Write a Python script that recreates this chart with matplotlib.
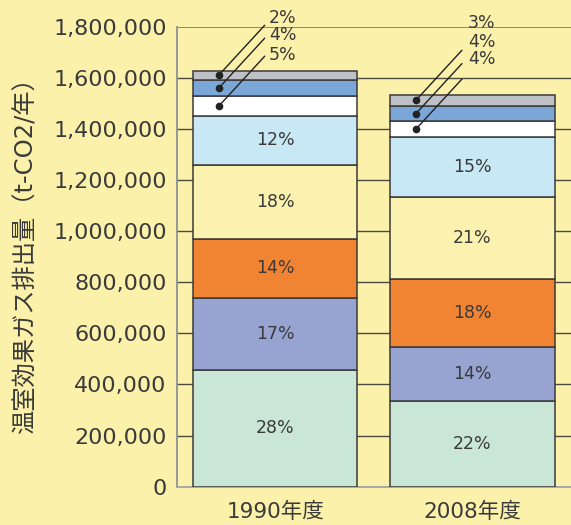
import matplotlib
matplotlib.use("Agg")
import matplotlib.pyplot as plt
import numpy as np

plt.rcParams['font.family'] = ['DejaVu Sans', 'Noto Sans CJK JP']

# ---- data ----
years = ["1990年度", "2008年度"]
# segments bottom -> top (t-CO2/year)
seg_1990 = [457000, 282000, 230000, 291000, 191000, 76000, 65000, 36000]
seg_2008 = [336000, 211000, 265000, 323000, 234000, 61000, 60000, 44500]
pct_1990 = ["28%", "17%", "14%", "18%", "12%", "5%", "4%", "2%"]
pct_2008 = ["22%", "14%", "18%", "21%", "15%", "4%", "4%", "3%"]
colors = ["#C9E6D6", "#97A4D2", "#F08433", "#FBF2B0",
          "#C9E8F5", "#FFFFFF", "#7BA7D8", "#BEC1C6"]
yticks = [0, 200000, 400000, 600000, 800000, 1000000, 1200000, 1400000, 1600000, 1800000]
ylabel = "温室効果ガス排出量（t-CO2/年）"

BG = "#FBF1AB"
TXT = "#3a3a3a"

fig = plt.figure(figsize=(5.71, 5.25), dpi=100, facecolor=BG)
ax = fig.add_axes([176.5 / 571, 1 - 486.7 / 525, 1 - 176.5 / 571, (486.7 - 26.7) / 525])
ax.set_facecolor(BG)

x = np.arange(len(years))
width = 0.835
all_segs = [seg_1990, seg_2008]
all_pcts = [pct_1990, pct_2008]

# small-segment label offsets (pixels): text position and line end relative to dot
text_off = [[(50, 57), (50, 53), (50, 51)], [(52, 77), (52, 72), (52, 70.5)]]
line_off = (46, 50)
dx_dot = -0.286

for i, (segs, pcts) in enumerate(zip(all_segs, all_pcts)):
    bottom = 0
    for j, (v, p, c) in enumerate(zip(segs, pcts, colors)):
        ax.bar(x[i], v, width, bottom=bottom, color=c, edgecolor="#3a3a3a",
               linewidth=1.1, zorder=3)
        mid = bottom + v / 2
        if j < 5:
            ax.text(x[i], mid, p, ha="center", va="center", fontsize=12.5,
                    color=TXT, zorder=4)
        else:
            k = 7 - j  # top-most first
            px, py = x[i] + dx_dot, mid
            ax.plot([px], [py], marker="o", markersize=4.5, color="#222222",
                    zorder=5, clip_on=False)
            ax.annotate("", xy=(px, py), xytext=line_off, textcoords="offset pixels",
                        arrowprops=dict(arrowstyle="-", color="#222222", lw=1.0,
                                        shrinkA=0, shrinkB=0),
                        zorder=5, annotation_clip=False)
            ax.annotate(p, xy=(px, py), xytext=text_off[i][k], textcoords="offset pixels",
                        ha="left", va="center", fontsize=12.5, color=TXT,
                        zorder=5, annotation_clip=False)
        bottom += v

ax.set_xlim(-0.5, 1.5)
ax.set_ylim(0, 1800000)
ax.set_yticks(yticks)
ax.set_yticklabels([f"{t:,}" for t in yticks], fontsize=16, color=TXT)
ax.set_xticks(x)
ax.set_xticklabels(years, fontsize=15.5, color=TXT)
ax.tick_params(axis="both", length=0)
ax.tick_params(axis="y", pad=7)
ax.tick_params(axis="x", pad=11)

ax.set_axisbelow(True)
ax.yaxis.grid(True, color="#4a4a40", linewidth=1.0, zorder=0)
for s in ["top", "right"]:
    ax.spines[s].set_visible(False)
ax.spines["left"].set_color("#8d9399")
ax.spines["bottom"].set_color("#a0a4a8")
ax.spines["left"].set_linewidth(1.3)
ax.spines["bottom"].set_linewidth(1.3)
gl = ax.get_ygridlines()
gl[-1].set_color("#808080")
gl[-1].set_linewidth(1.3)

ax.set_ylabel(ylabel, fontsize=17.5, color=TXT,
              family=['DejaVu Sans', 'Noto Sans CJK JP'])
ax.yaxis.set_label_coords(-0.352, 0.515)

fig.savefig("out.png", dpi=100, facecolor=BG)
